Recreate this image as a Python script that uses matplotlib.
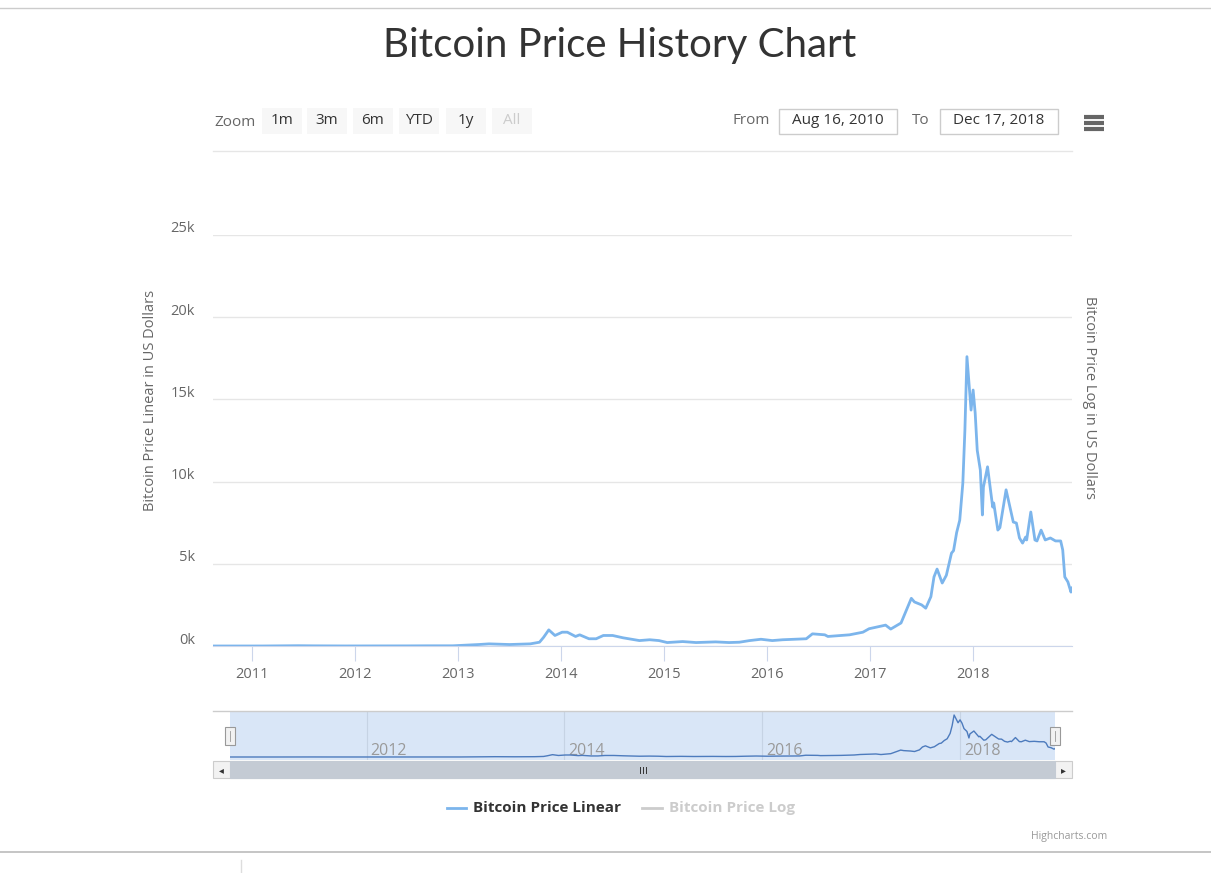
import numpy as np
import matplotlib.pyplot as plt
from matplotlib.patches import Rectangle
from matplotlib.lines import Line2D
from matplotlib.transforms import ScaledTranslation

W, H = 1211, 873

# ─── Data (decimal year, USD) ────────────────────────────────────────────────
YEARS = [
    2010.62, 2010.90, 2011.10, 2011.45, 2011.60, 2011.90, 2012.20, 2012.50,
    2012.70, 2012.95, 2013.20, 2013.30, 2013.50, 2013.70, 2013.79, 2013.83,
    2013.88, 2013.94, 2014.01, 2014.06, 2014.14, 2014.18, 2014.27, 2014.34,
    2014.41, 2014.50, 2014.60, 2014.76, 2014.86, 2014.95, 2015.03, 2015.18,
    2015.31, 2015.50, 2015.63, 2015.73, 2015.83, 2015.94, 2016.05, 2016.15,
    2016.38, 2016.44, 2016.56, 2016.59, 2016.80, 2016.93, 2016.99, 2017.15,
    2017.20, 2017.30, 2017.40, 2017.43, 2017.50, 2017.54, 2017.59, 2017.62,
    2017.65, 2017.70, 2017.74, 2017.79, 2017.81, 2017.84, 2017.87, 2017.90,
    2017.92, 2017.94, 2017.98, 2018.00, 2018.02, 2018.04, 2018.07, 2018.09,
    2018.10, 2018.14, 2018.19, 2018.20, 2018.24, 2018.26, 2018.32, 2018.39,
    2018.42, 2018.45, 2018.48, 2018.51, 2018.52, 2018.56, 2018.60, 2018.62,
    2018.66, 2018.70, 2018.75, 2018.80, 2018.85, 2018.87, 2018.89, 2018.92,
    2018.95, 2018.96,
]
PRICE = [
    0.07, 0.25, 1, 18, 10, 3, 5, 7,
    12, 13, 90, 130, 90, 130, 230, 530,
    980, 640, 840, 840, 580, 680, 440, 440,
    640, 640, 500, 330, 380, 330, 210, 270,
    210, 250, 210, 230, 330, 410, 330, 380,
    440, 740, 680, 580, 680, 840, 1050, 1270,
    1030, 1400, 2900, 2680, 2500, 2300, 3000, 4200,
    4680, 3830, 4300, 5650, 5800, 6900, 7650, 9900,
    13100, 17600, 14350, 15570, 14170, 11900, 10700, 7970,
    9670, 10900, 8450, 8700, 7050, 7200, 9500, 7540,
    7480, 6570, 6260, 6630, 6450, 8150, 6450, 6390,
    7050, 6450, 6570, 6390, 6390, 5840, 4200, 3900,
    3280, 3530,
]
Y_TICKS = [0, 5000, 10000, 15000, 20000, 25000]
Y_LABELS = ["0k", "5k", "10k", "15k", "20k", "25k"]
X_TICKS = [2011, 2012, 2013, 2014, 2015, 2016, 2017, 2018]
NAV_TICKS = [2012, 2014, 2016, 2018]
ZOOM_BUTTONS = ["1m", "3m", "6m", "YTD", "1y", "All"]

LINE_BLUE = "#7cb5ec"
GRID = "#e6e6e6"
AXIS = "#ccd6eb"
TXT = "#666666"
FONT = "Open Sans"

plt.rcParams["font.family"] = [FONT, "DejaVu Sans"]


def fx(x):
    return x / W


def fy(y):
    return 1 - y / H


def rect(x0, y0, x1, y1):
    return [fx(x0), fy(y1), fx(x1 - x0), (y1 - y0) / H]


fig = plt.figure(figsize=(W / 100, H / 100), dpi=100)

# page lines
fig.add_artist(Line2D([0, 1], [fy(8), fy(8)], color="#cccccc", lw=1))
fig.add_artist(Line2D([0, 1], [fy(852), fy(852)], color="#bbbbbb", lw=1.2))
fig.add_artist(Line2D([fx(241), fx(241)], [fy(860), 0], color="#dddddd", lw=1))

# ─── Title ───────────────────────────────────────────────────────────────────
fig.text(fx(620), fy(46), "Bitcoin Price History Chart", ha="center", va="center",
         fontsize=29, color="#333333", family=["Lato", "DejaVu Sans"])

# ─── Range selector ──────────────────────────────────────────────────────────
fig.text(fx(214), fy(122), "Zoom", ha="left", va="center", fontsize=11, color=TXT)
btn_x = [262, 307, 353, 399, 446, 492]
for bx, lab in zip(btn_x, ZOOM_BUTTONS):
    fig.add_artist(Rectangle((fx(bx), fy(134)), fx(40), 26 / H,
                             facecolor="#f7f7f7", edgecolor="none"))
    fig.text(fx(bx + 20), fy(121), lab, ha="center", va="center", fontsize=11,
             color="#cccccc" if lab == "All" else "#333333")

fig.text(fx(733), fy(121), "From", ha="left", va="center", fontsize=11, color=TXT)
fig.text(fx(912), fy(121), "To", ha="left", va="center", fontsize=11, color=TXT)
for x0, x1, lab in [(779, 897, "Aug 16, 2010"), (940, 1058, "Dec 17, 2018")]:
    fig.add_artist(Rectangle((fx(x0), fy(134)), fx(x1 - x0), 25 / H,
                             facecolor="white", edgecolor="#cccccc", lw=1))
    fig.text(fx((x0 + x1) / 2), fy(121), lab, ha="center", va="center",
             fontsize=11, color="#333333")

# hamburger menu
for yy in [117, 123, 129]:
    fig.add_artist(Line2D([fx(1084), fx(1104)], [fy(yy), fy(yy)],
                          color="#666666", lw=3, solid_capstyle="butt"))

fig.add_artist(Line2D([fx(213), fx(1072)], [fy(151), fy(151)], color=GRID, lw=1))

# ─── Main plot ───────────────────────────────────────────────────────────────
ax = fig.add_axes(rect(213, 235, 1072, 646))
ax.plot(YEARS, PRICE, color=LINE_BLUE, lw=2, solid_joinstyle="round", zorder=3)
ax.set_xlim(2010.62, 2018.96)
ax.set_ylim(0, 25000)
ax.set_yticks(Y_TICKS)
ax.set_yticklabels(Y_LABELS)
ax.set_xticks(X_TICKS)
ax.set_xticklabels([str(y) for y in X_TICKS])
ax.grid(axis="y", color=GRID, lw=1)
ax.set_axisbelow(True)
for s in ["top", "left", "right"]:
    ax.spines[s].set_visible(False)
ax.spines["bottom"].set_color(AXIS)
ax.tick_params(axis="y", length=0, pad=13, labelsize=10.5, labelcolor=TXT)
ax.tick_params(axis="x", length=11, color=AXIS, pad=4, labelsize=10.5, labelcolor=TXT)
for lab in ax.get_yticklabels():
    lab.set_transform(lab.get_transform() + ScaledTranslation(0, 0.08, fig.dpi_scale_trans))

fig.text(fx(151), fy(400), "Bitcoin Price Linear in US Dollars", rotation=90,
         ha="center", va="center", fontsize=10.5, color=TXT)
fig.text(fx(1090), fy(398), "Bitcoin Price Log in US Dollars", rotation=270,
         ha="center", va="center", fontsize=10.5, color=TXT)

# ─── Navigator ───────────────────────────────────────────────────────────────
nav = fig.add_axes(rect(230, 711, 1055, 760))
nav.set_facecolor("#d9e6f7")
nav.plot(YEARS, PRICE, color="#4d7bbd", lw=1, zorder=3)
nav.set_xlim(2010.62, 2018.96)
nav.set_ylim(-1257, 19276)
for yr in NAV_TICKS:
    nav.axvline(yr, color="#c6d3e4", lw=0.8, zorder=1)
    nav.text(yr + 0.04, -700, str(yr), ha="left", va="bottom", fontsize=11.5,
             color="#9a9a9a", zorder=2)
nav.set_xticks([])
nav.set_yticks([])
for s in nav.spines.values():
    s.set_visible(False)

fig.add_artist(Line2D([fx(213), fx(1072)], [fy(711), fy(711)], color="#cccccc", lw=1))

# handles
for hx in [230, 1055]:
    fig.add_artist(Rectangle((fx(hx - 5), fy(745)), fx(10), 18 / H,
                             facecolor="#f2f2f2", edgecolor="#999999", lw=0.8, zorder=5))
    fig.add_artist(Line2D([fx(hx), fx(hx)], [fy(741), fy(731)], color="#999999",
                          lw=0.6, zorder=6))

# scrollbar
fig.add_artist(Rectangle((fx(213), fy(778)), fx(859), 17 / H,
                         facecolor="#f2f2f2", edgecolor="#cccccc", lw=0.8))
fig.add_artist(Rectangle((fx(230), fy(778)), fx(825), 17 / H,
                         facecolor="#c4cbd4", edgecolor="#c4cbd4", lw=0.8))
fig.text(fx(221.5), fy(770), "\u25c2", ha="center", va="center", fontsize=7, color="#333333",
         family="DejaVu Sans")
fig.text(fx(1063.5), fy(770), "\u25b8", ha="center", va="center", fontsize=7, color="#333333",
         family="DejaVu Sans")
for gx in [640, 643, 646]:
    fig.add_artist(Line2D([fx(gx), fx(gx)], [fy(767), fy(773)], color="#333333", lw=0.7))

# ─── Legend ──────────────────────────────────────────────────────────────────
fig.add_artist(Line2D([fx(447), fx(466)], [fy(808), fy(808)], color=LINE_BLUE, lw=2))
fig.text(fx(473), fy(808), "Bitcoin Price Linear", ha="left", va="center",
         fontsize=11, fontweight="bold", color="#333333")
fig.add_artist(Line2D([fx(642), fx(662)], [fy(808), fy(808)], color="#cccccc", lw=2))
fig.text(fx(669), fy(808), "Bitcoin Price Log", ha="left", va="center",
         fontsize=11, fontweight="bold", color="#cccccc")

fig.text(fx(1107), fy(836), "Highcharts.com", ha="right", va="center",
         fontsize=7.5, color="#999999")

fig.savefig("out.png", dpi=100)
